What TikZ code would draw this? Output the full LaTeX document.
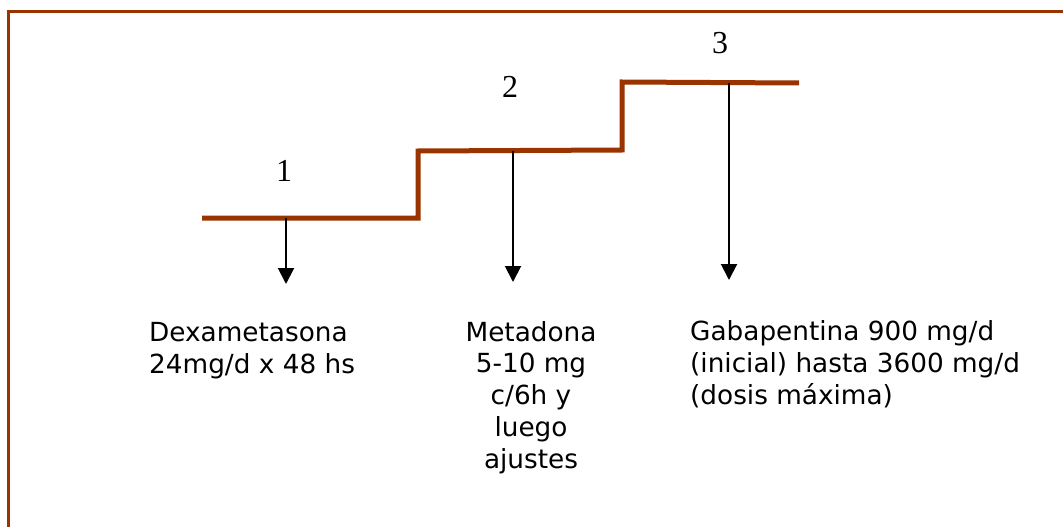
\documentclass[tikz,border=0pt]{standalone}
\usepackage{fontspec}
\setmainfont{DejaVu Sans}
\newfontfamily\numfont{Liberation Serif}
\usetikzlibrary{arrows.meta}
\definecolor{stairbrown}{RGB}{153,51,0}
\begin{document}
\begin{tikzpicture}[x=1pt,y=-1pt,
  frame/.style={draw=stairbrown,line width=3pt},
  stair/.style={draw=stairbrown,line width=5pt,line join=miter},
  drop/.style={draw=black,line width=2pt,-{Triangle[width=16pt,length=16pt]}},
  stepnum/.style={inner sep=0pt,anchor=base,font=\fontsize{32}{36}\selectfont\numfont},
  dose/.style={inner sep=0pt,anchor=base west,font=\fontsize{26.3}{31.7}\selectfont}]
  \useasboundingbox (0,0) rectangle (1063,527);
  % outer frame (top and left edges)
  \draw[frame] (1063,12) -- (8,12) -- (8,527);
  % stair line
  \coordinate (s0) at (202,218);
  \coordinate (s1) at (418,218);
  \coordinate (s2) at (418,151);
  \coordinate (s3) at (622,150);
  \coordinate (s4) at (622,82);
  \coordinate (s5) at (799,83);
  \draw[stair] (s0) -- (s1) -- (s2) -- (s3) -- (s4) -- (s5);
  % step numbers
  \node[stepnum] (n1) at (284,181) {1};
  \node[stepnum] (n2) at (510,97) {2};
  \node[stepnum] (n3) at (720,54) {3};
  % arrows down from each step
  \coordinate (a1) at (286,218);
  \coordinate (b1) at (286,284);
  \coordinate (a2) at (513,151);
  \coordinate (b2) at (513,282);
  \coordinate (a3) at (729,83);
  \coordinate (b3) at (729,280);
  \draw[drop] (a1) -- (b1);
  \draw[drop] (a2) -- (b2);
  \draw[drop] (a3) -- (b3);
  % drug texts (anchored at the baseline of their last line)
  \node[dose,align=left] (t1) at (149,373) {Dexametasona\\24mg/d x 48 hs};
  \node[dose,align=center,anchor=base] (t2) at (531,468) {Metadona\\5-10 mg\\c/6h y\\luego\\ajustes};
  \node[dose,align=left] (t3) at (690,404) {Gabapentina 900 mg/d\\(inicial) hasta 3600 mg/d\\(dosis máxima)};
\end{tikzpicture}
\end{document}
